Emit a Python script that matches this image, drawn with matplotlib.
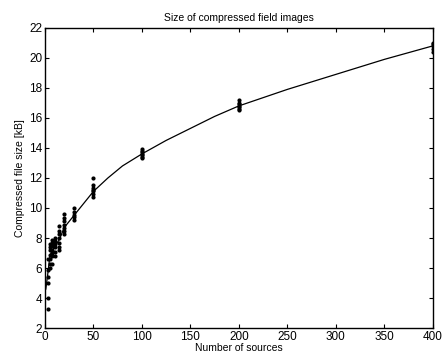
import matplotlib
matplotlib.use("Agg")
import matplotlib.pyplot as plt
import numpy as np

plt.rcParams['font.family'] = ['Liberation Sans', 'DejaVu Sans']

# scatter samples: x position and measured sizes
sample_x = [3]*6 + [5]*7 + [7]*7 + [10]*6 + [15]*7 + [20]*7 + [30]*5 + [50]*7 + [100]*7 + [200]*7 + [400]*5
sample_y = [3.3, 4.0, 5.0, 5.4, 5.9, 6.6,
            6.0, 6.3, 6.6, 6.9, 7.2, 7.4, 7.6,
            6.3, 6.8, 7.0, 7.2, 7.5, 7.7, 7.9,
            6.8, 7.1, 7.4, 7.6, 7.8, 8.0,
            7.2, 7.4, 7.7, 8.0, 8.3, 8.5, 8.8,
            8.3, 8.5, 8.7, 8.9, 9.1, 9.3, 9.6,
            9.2, 9.4, 9.5, 9.7, 10.0,
            10.7, 10.9, 11.1, 11.2, 11.3, 11.5, 12.0,
            13.3, 13.4, 13.5, 13.6, 13.7, 13.8, 13.9,
            16.5, 16.6, 16.7, 16.8, 16.9, 17.0, 17.2,
            20.4, 20.6, 20.8, 20.9, 21.0]

# mean curve
line_x = [1, 3, 5, 7, 10, 15, 20, 30, 40, 50, 65, 80, 100, 125, 150, 175, 200, 250, 300, 350, 400]
line_y = [4.6, 5.6, 6.7, 7.1, 7.4, 7.9, 8.7, 9.5, 10.3, 11.1, 12.0, 12.8, 13.6, 14.5, 15.3, 16.1, 16.8, 17.9, 18.9, 19.9, 20.8]

fig = plt.figure(figsize=(4.44, 3.57), dpi=100)
ax = fig.add_axes([0.101, 0.081, 0.874, 0.841])
ax.plot(line_x, line_y, color='black', lw=0.9)
ax.plot(sample_x, sample_y, 'o', color='black', ms=3.0, mew=0)
ax.set_xlim(0, 400)
ax.set_ylim(2, 22)
ax.set_xticks(np.arange(0, 401, 50))
ax.set_yticks(np.arange(2, 23, 2))
ax.tick_params(direction='in', top=True, right=True, labelsize=8.5, length=3, width=0.8, pad=2)
for s in ax.spines.values():
    s.set_linewidth(1.0)
ax.set_title('Size of compressed field images', fontsize=7.5, pad=5)
ax.set_xlabel('Number of sources', fontsize=7.5, labelpad=0)
ax.set_ylabel('Compressed file size [kB]', fontsize=7.5, labelpad=3)
fig.savefig('out.png', dpi=100)
